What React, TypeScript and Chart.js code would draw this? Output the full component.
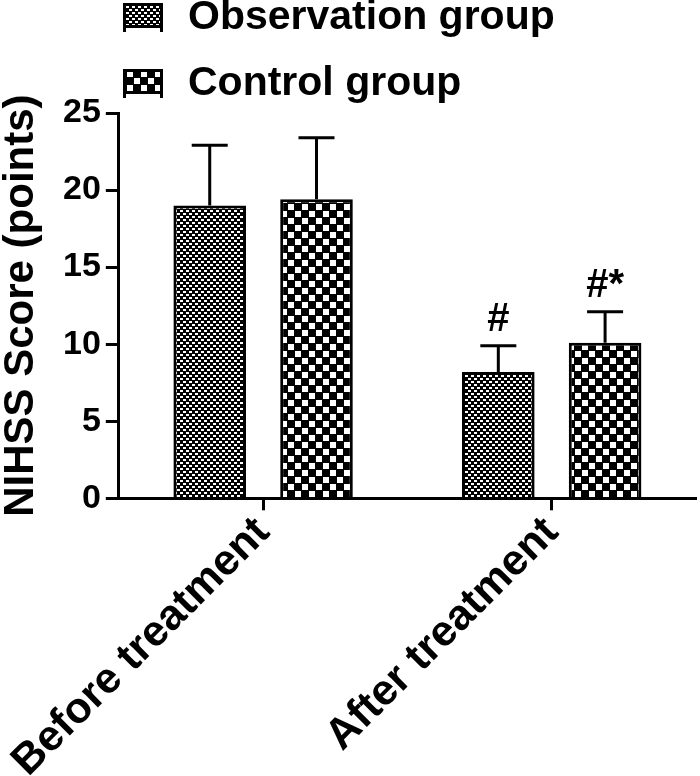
import React, { useEffect, useRef } from 'react';
import { Chart, registerables } from 'chart.js';

Chart.register(...registerables);

const categories = ['Before treatment', 'After treatment'];
const seriesNames = ['Observation group', 'Control group'];
const observationMeans = [19.0, 8.2];
const observationSD = [3.9, 1.7];
const controlMeans = [19.4, 10.1];
const controlSD = [4.0, 2.0];
const observationMarks = ['', '#'];
const controlMarks = ['', '#*'];
const yTicks = [0, 5, 10, 15, 20, 25];
const yTitle = 'NIHSS Score (points)';

const FONT = '"Liberation Sans", Arial, Helvetica, sans-serif';

if (typeof document !== 'undefined') {
  document.body.style.margin = '0';
}

function makePattern(ctx: CanvasRenderingContext2D, kind: 'fine' | 'coarse') {
  const c = document.createElement('canvas');
  const t = c.getContext('2d') as CanvasRenderingContext2D;
  if (kind === 'fine') {
    c.width = 6;
    c.height = 6;
    t.fillStyle = '#000';
    t.fillRect(0, 0, 6, 6);
    t.fillStyle = '#fff';
    t.fillRect(0, 0, 3, 2);
    t.fillRect(3, 3, 3, 2);
  } else {
    c.width = 14;
    c.height = 14;
    t.fillStyle = '#000';
    t.fillRect(0, 0, 14, 14);
    t.fillStyle = '#fff';
    t.fillRect(1, 1, 6, 6);
    t.fillRect(8, 8, 6, 6);
  }
  return ctx.createPattern(c, 'repeat') as CanvasPattern;
}

const sdLists = [observationSD, controlSD];
const markLists = [observationMarks, controlMarks];

const errorBarPlugin = {
  id: 'errorBars',
  afterDatasetsDraw(chart: any) {
    const ctx = chart.ctx;
    const yScale = chart.scales.y;
    ctx.save();
    ctx.strokeStyle = '#000';
    ctx.lineWidth = 3;
    chart.data.datasets.forEach((ds: any, di: number) => {
      const meta = chart.getDatasetMeta(di);
      meta.data.forEach((bar: any, i: number) => {
        const v = ds.data[i];
        const sd = sdLists[di][i];
        const yTop = yScale.getPixelForValue(v + sd);
        const yBar = yScale.getPixelForValue(v);
        ctx.beginPath();
        ctx.moveTo(bar.x, yBar);
        ctx.lineTo(bar.x, yTop);
        ctx.moveTo(bar.x - 18, yTop);
        ctx.lineTo(bar.x + 18, yTop);
        ctx.stroke();
        const mark = markLists[di][i];
        if (mark) {
          ctx.fillStyle = '#000';
          ctx.font = `bold 40px ${FONT}`;
          ctx.textAlign = 'center';
          ctx.textBaseline = 'alphabetic';
          ctx.fillText(mark, bar.x, yTop - 15);
        }
      });
    });
    ctx.restore();
  },
};

const legendPlugin = {
  id: 'customLegend',
  afterDraw(chart: any) {
    const ctx = chart.ctx;
    ctx.save();
    chart.data.datasets.forEach((ds: any, i: number) => {
      const x = 123;
      const y = 3 + i * 66;
      const w = 40;
      const h = 25;
      ctx.fillStyle = ds.backgroundColor;
      ctx.fillRect(x, y, w, h);
      ctx.strokeStyle = '#000';
      ctx.lineWidth = 3;
      ctx.strokeRect(x + 1.5, y + 1.5, w - 3, h - 3);
      ctx.beginPath();
      ctx.moveTo(x + 1.5, y + h);
      ctx.lineTo(x + 1.5, y + h + 4);
      ctx.moveTo(x + w - 1.5, y + h);
      ctx.lineTo(x + w - 1.5, y + h + 4);
      ctx.stroke();
      ctx.fillStyle = '#000';
      ctx.font = `bold 41px ${FONT}`;
      ctx.textAlign = 'left';
      ctx.textBaseline = 'middle';
      ctx.fillText(ds.label, 188, y + 15);
    });
    ctx.restore();
  },
};

export default function App() {
  const ref = useRef<HTMLCanvasElement | null>(null);

  useEffect(() => {
    const canvas = ref.current;
    if (!canvas) return;
    const ctx = canvas.getContext('2d') as CanvasRenderingContext2D;
    const finePat = makePattern(ctx, 'fine');
    const coarsePat = makePattern(ctx, 'coarse');

    const chart = new Chart(canvas, {
      type: 'bar',
      data: {
        labels: categories,
        datasets: [
          {
            label: seriesNames[0],
            data: observationMeans,
            backgroundColor: finePat as any,
            borderColor: '#000',
            borderWidth: { top: 3, left: 3, right: 3, bottom: 0 },
            borderSkipped: false,
          },
          {
            label: seriesNames[1],
            data: controlMeans,
            backgroundColor: coarsePat as any,
            borderColor: '#000',
            borderWidth: { top: 3, left: 3, right: 3, bottom: 0 },
            borderSkipped: false,
          },
        ],
      },
      options: {
        animation: false,
        responsive: true,
        maintainAspectRatio: false,
        datasets: { bar: { categoryPercentage: 0.74, barPercentage: 0.68 } },
        layout: { padding: { top: 113, left: 0, right: 4, bottom: -8 } },
        plugins: {
          legend: { display: false },
          tooltip: { enabled: false },
        },
        scales: {
          x: {
            type: 'category',
            offset: true,
            afterFit: (scale: any) => {
              scale.paddingLeft = 0;
              scale.paddingRight = 0;
            },
            grid: {
              display: true,
              drawOnChartArea: false,
              drawTicks: true,
              offset: false,
              tickLength: 12,
              tickWidth: 3,
              tickColor: '#000',
              color: '#000',
            },
            border: { display: true, color: '#000', width: 3 },
            ticks: {
              color: '#000',
              font: { family: FONT, size: 43, weight: 'bold', lineHeight: 1 },
              minRotation: 45,
              maxRotation: 45,
              autoSkip: false,
              padding: 0,
            },
          },
          y: {
            min: 0,
            max: 25,
            afterBuildTicks: (scale: any) => {
              scale.ticks = yTicks.map((v) => ({ value: v }));
            },
            grid: {
              display: true,
              drawOnChartArea: false,
              drawTicks: true,
              tickLength: 13,
              tickWidth: 3,
              tickColor: '#000',
              color: '#000',
            },
            border: { display: true, color: '#000', width: 3 },
            ticks: {
              color: '#000',
              font: { family: FONT, size: 34, weight: 'bold' },
              padding: 5,
            },
            title: {
              display: true,
              text: yTitle,
              color: '#000',
              font: { family: FONT, size: 42, weight: 'bold', lineHeight: 1 },
              padding: { top: 0, bottom: 16 },
            },
          },
        },
      },
      plugins: [errorBarPlugin, legendPlugin],
    } as any);

    return () => {
      chart.destroy();
    };
  }, []);

  return (
    <div style={{ position: 'relative', width: 700, height: 776 }}>
      <canvas ref={ref} />
    </div>
  );
}
